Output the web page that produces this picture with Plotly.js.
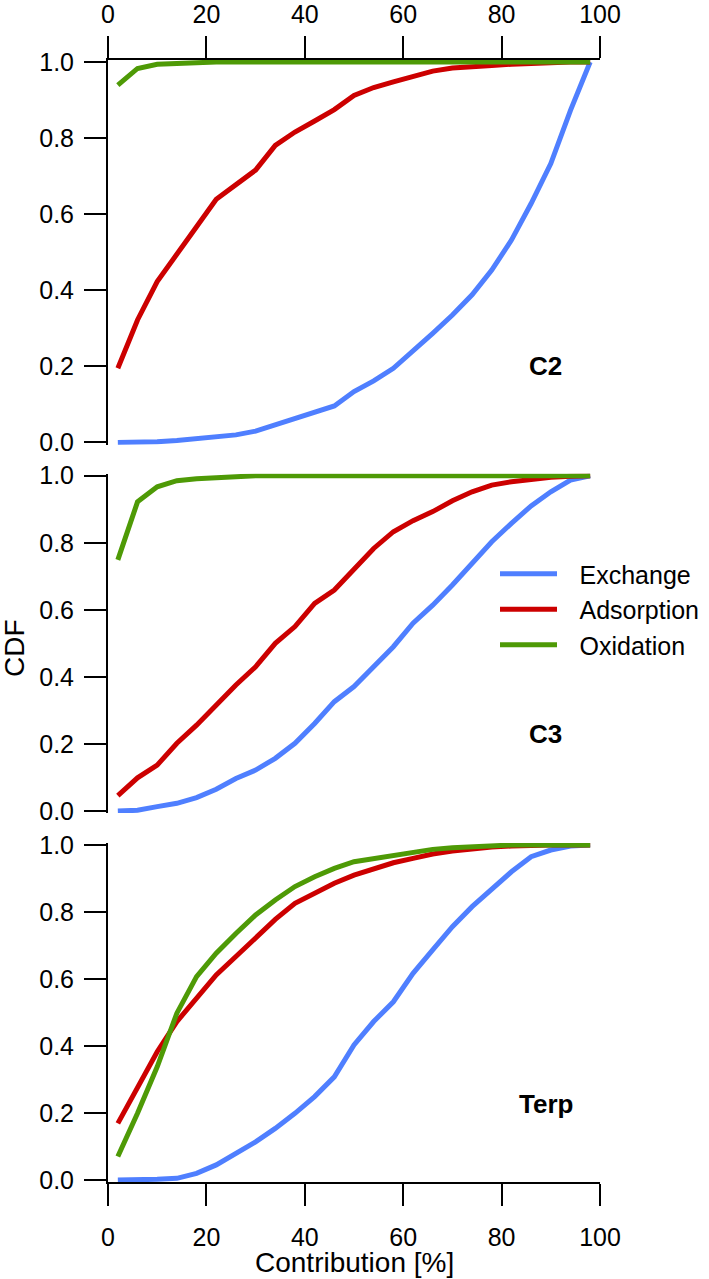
<!DOCTYPE html>
<html>
<head>
<meta charset="utf-8">
<script src="https://cdn.plot.ly/plotly-3.0.1.min.js"></script>
<style>html,body{margin:0;padding:0;background:#fff;}#chart{width:709px;height:1279px;}</style>
</head>
<body>
<div id="chart"></div>
<script>
// ---- data ----
var contribution = [2,6,10,14,18,22,26,30,34,38,42,46,50,54,58,62,66,70,74,78,82,86,90,94,98];

var c2Exchange   = [0,0,0.002,0.005,0.01,0.013,0.02,0.03,0.046,0.064,0.08,0.096,0.134,0.162,0.195,0.239,0.287,0.335,0.388,0.453,0.532,0.628,0.733,0.873,1.0];
var c2Adsorption = [0.195,0.322,0.423,0.497,0.567,0.639,0.676,0.716,0.781,0.816,0.845,0.875,0.912,0.933,0.948,0.961,0.976,0.984,0.989,0.991,0.994,0.997,1,1,1];
var c2Oxidation  = [0.939,0.983,0.994,0.997,0.999,1,1,1,1,1,1,1,1,1,1,1,1,1,1,1,1,1,1,1,1];

var c3Exchange   = [0,0.002,0.013,0.023,0.04,0.065,0.097,0.122,0.157,0.202,0.261,0.326,0.371,0.43,0.49,0.56,0.614,0.674,0.739,0.803,0.858,0.91,0.952,0.987,1.0];
var c3Adsorption = [0.046,0.099,0.137,0.202,0.256,0.316,0.376,0.43,0.5,0.55,0.619,0.659,0.719,0.783,0.833,0.866,0.893,0.925,0.952,0.972,0.982,0.99,0.995,0.998,1.0];
var c3Oxidation  = [0.749,0.922,0.967,0.985,0.991,0.995,0.998,1,1,1,1,1,1,1,1,1,1,1,1,1,1,1,1,1,1];

var terpExchange   = [0,0,0.002,0.005,0.02,0.045,0.08,0.114,0.154,0.199,0.249,0.308,0.403,0.473,0.532,0.617,0.687,0.756,0.816,0.866,0.92,0.965,0.985,0.997,1.0];
var terpAdsorption = [0.169,0.279,0.383,0.473,0.542,0.612,0.667,0.721,0.778,0.826,0.858,0.886,0.91,0.93,0.947,0.96,0.973,0.982,0.989,0.994,0.997,1,1,1,1];
var terpOxidation  = [0.07,0.199,0.338,0.498,0.607,0.677,0.736,0.791,0.836,0.876,0.905,0.93,0.95,0.96,0.97,0.98,0.987,0.992,0.995,0.997,1,1,1,1,1];

var seriesNames = ['Exchange','Adsorption','Oxidation'];
var panelLabels = ['C2','C3','Terp'];
var xTitle = 'Contribution [%]';
var yTitle = 'CDF';
var xTickVals = [0,20,40,60,80,100];
var yTickVals = [0,0.2,0.4,0.6,0.8,1.0];

// ---- styling / layout ----
var W = 709, H = 1279;
var colors = ['#4F7FFF','#CC0000','#4E9A06'];
var FONT = 'Liberation Sans, Arial, sans-serif';
var YPAD = 0.006;
function px2py(p){ return 1 - p/H; }
function px2px(p){ return p/W; }
function ydom(p1, p0){
  var u = p0 - p1;
  return [px2py(p0 + YPAD*u), px2py(p1 - YPAD*u)];
}
var xDomain = [px2px(108), px2px(600)];

var panels = [
  {ex: c2Exchange, ad: c2Adsorption, ox: c2Oxidation, xa:'x', ya:'y'},
  {ex: c3Exchange, ad: c3Adsorption, ox: c3Oxidation, xa:'x2', ya:'y2'},
  {ex: terpExchange, ad: terpAdsorption, ox: terpOxidation, xa:'x3', ya:'y3'}
];

var traces = [];
panels.forEach(function(p, i){
  [p.ex, p.ad, p.ox].forEach(function(vals, k){
    traces.push({
      type:'scatter', mode:'lines',
      x: contribution, y: vals,
      xaxis: p.xa, yaxis: p.ya,
      name: '\u2002\u2009' + seriesNames[k], legendgroup: seriesNames[k],
      showlegend: i === 0,
      line: {color: colors[k], width: 5},
      hoverinfo: 'skip'
    });
  });
});

function yaxis(dom, anchor){
  return {
    domain: dom, anchor: anchor, range: [-YPAD, 1 + YPAD],
    tickvals: yTickVals, tickformat: '.1f',
    ticks: 'outside', ticklen: 22, tickwidth: 2, tickcolor: '#000',
    showline: true, linecolor: '#000', linewidth: 2,
    showgrid: false, zeroline: false,
    ticklabelstandoff: 5,
    tickfont: {family: FONT, size: 25, color: '#000'},
    fixedrange: true
  };
}

function xaxis(anchor, side, standoff){
  return {
    domain: xDomain, anchor: anchor, side: side,
    range: [0,100], tickvals: xTickVals,
    ticks: 'outside', ticklen: 22, tickwidth: 2, tickcolor: '#000',
    showline: true, linecolor: '#000', linewidth: 2,
    showgrid: false, zeroline: false,
    ticklabelstandoff: standoff,
    tickfont: {family: FONT, size: 25, color: '#000'}, fixedrange: true
  };
}

var layout = {
  width: W, height: H,
  margin: {l:0, r:0, t:0, b:0},
  paper_bgcolor: '#fff', plot_bgcolor: 'rgba(0,0,0,0)',
  font: {family: FONT, color: '#000'},
  showlegend: true,
  legend: {
    x: px2px(495), y: px2py(551), xanchor: 'left', yanchor: 'top',
    font: {family: FONT, size: 25, color: '#000'},
    bgcolor: 'rgba(0,0,0,0)', itemwidth: 57,
    tracegroupgap: 0
  },
  xaxis: xaxis('y', 'top', 3),
  xaxis2: {domain: xDomain, anchor: 'y2', range: [0,100], visible: false, fixedrange: true},
  xaxis3: xaxis('y3', 'bottom', 10),
  yaxis: yaxis(ydom(62, 442.5), 'x'),
  yaxis2: yaxis(ydom(475.7, 811), 'x2'),
  yaxis3: yaxis(ydom(845, 1180), 'x3'),
  annotations: [
    {xref:'x', yref:'y', x: 89, y: 0.2, text: '<b>' + panelLabels[0] + '</b>', showarrow:false,
     font:{family: FONT, size: 26, color:'#000'}},
    {xref:'x2', yref:'y2', x: 89, y: 0.23, text: '<b>' + panelLabels[1] + '</b>', showarrow:false,
     font:{family: FONT, size: 26, color:'#000'}},
    {xref:'x3', yref:'y3', x: 89, y: 0.227, text: '<b>' + panelLabels[2] + '</b>', showarrow:false,
     font:{family: FONT, size: 26, color:'#000'}},
    {xref:'paper', yref:'paper', x: (xDomain[0] + xDomain[1]) / 2, y: px2py(1262), text: xTitle,
     showarrow:false, xanchor:'center', yanchor:'middle',
     font:{family: FONT, size: 28, color:'#000'}},
    {xref:'paper', yref:'paper', x: px2px(15), y: px2py(648), text: yTitle, textangle: -90,
     showarrow:false, xanchor:'center', yanchor:'middle',
     font:{family: FONT, size: 28, color:'#000'}}
  ]
};

Plotly.newPlot('chart', traces, layout, {staticPlot: true, displayModeBar: false});
</script>
</body>
</html>
